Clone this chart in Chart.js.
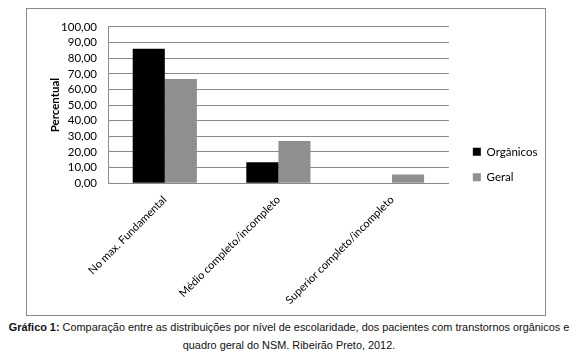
<!DOCTYPE html>
<html>
<head>
<meta charset="utf-8">
<script src="https://cdn.jsdelivr.net/npm/chart.js@4"></script>
<style>
  body{margin:0;background:#fff;width:578px;height:354px;position:relative;overflow:hidden;}
  #box{position:absolute;left:26px;top:8px;width:518px;height:306px;border:1px solid #8a8a8a;}
  #cap{position:absolute;left:0;top:318px;width:578px;text-align:center;font-family:"Liberation Sans",Arial,sans-serif;font-size:10.9px;line-height:18px;color:#111;}
</style>
</head>
<body>
<div id="box"><canvas id="c"></canvas></div>
<div id="cap"><b>Gráfico 1:</b> Comparação entre as distribuições por nível de escolaridade, dos pacientes com transtornos orgânicos e<br>quadro geral do NSM. Ribeirão Preto, 2012.</div>
<script>
/* escolaridade: orgânicos vs geral */
const categories=['No max. Fundamental','Médio completo/incompleto','Superior completo/incompleto'];
const organicos=[86.0,13.5,0];
const geral=[66.6,27.1,5.6];
const yTicks=[0,10,20,30,40,50,60,70,80,90,100];

(function(){
  const font='Lato, "Open Sans", sans-serif';
  new Chart(document.getElementById('c'),{type:'bar',
    data:{labels:categories,datasets:[
      {label:'Orgânicos',data:organicos,backgroundColor:'#000000',categoryPercentage:0.565,barPercentage:1},
      {label:'Geral',data:geral,backgroundColor:'#8f8f8f',categoryPercentage:0.565,barPercentage:1}
    ]},
    options:{responsive:true,maintainAspectRatio:false,animation:false,
      layout:{padding:{left:21,top:2,right:4,bottom:6}},
      scales:{
        x:{grid:{display:false},border:{color:'#8a8a8a'},
          ticks:{color:'#000',font:{family:font,size:11},minRotation:45,maxRotation:45,padding:2}},
        y:{min:0,max:100,afterBuildTicks:a=>{a.ticks=yTicks.map(v=>({value:v}));},
          afterFit:s=>{s.width=60;},
          grid:{color:'#8a8a8a',drawTicks:false},border:{color:'#8a8a8a'},
          ticks:{color:'#000',font:{family:font,size:11.5},padding:11,autoSkip:false,callback:v=>v.toFixed(2).replace('.',',')},
          title:{display:true,text:'Percentual',color:'#000',font:{family:font,size:11.5,weight:'bold'},padding:{top:0,bottom:1}}},
        gap:{position:'right',display:true,grid:{display:false},border:{display:false},ticks:{display:false},
          afterFit:s=>{s.width=10;}}
      },
      plugins:{tooltip:{enabled:false},
        legend:{position:'right',title:{display:true,text:' ',padding:1,font:{size:6}},
          labels:{color:'#000',font:{family:font,size:11.5},boxWidth:8,boxHeight:8,padding:14}}}
    }});
})();
</script>
</body>
</html>
